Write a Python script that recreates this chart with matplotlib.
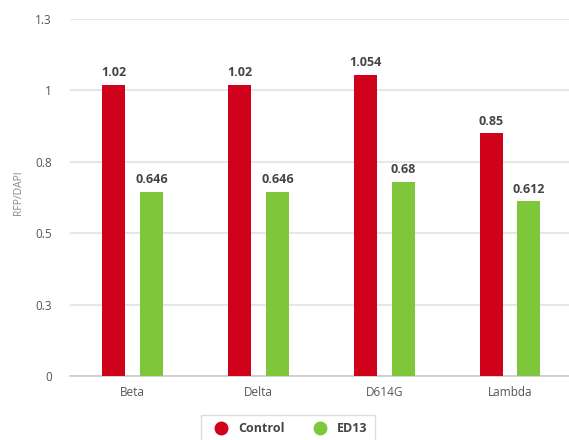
import matplotlib.pyplot as plt
from matplotlib.lines import Line2D
import numpy as np

plt.rcParams['font.family'] = ['Open Sans', 'DejaVu Sans']

variants = ['Beta', 'Delta', 'D614G', 'Lambda']
control = [1.02, 1.02, 1.054, 0.85]
ed13 = [0.646, 0.646, 0.68, 0.612]
series_names = ['Control', 'ED13']
y_ticks = [0, 0.25, 0.5, 0.75, 1, 1.25]
y_tick_labels = ['0', '0.3', '0.5', '0.8', '1', '1.3']

red = '#d0021b'
green = '#7ec73a'

fig = plt.figure(figsize=(5.69, 4.40), dpi=100)
ax = fig.add_axes([70 / 569, 64 / 440, 1 - 70 / 569, 357 / 440])

x = np.arange(len(variants))
w = 0.183
off = 0.15
b1 = ax.bar(x - off, control, w, color=red, zorder=3)
b2 = ax.bar(x + off, ed13, w, color=green, zorder=3)

# value labels above each bar
for bars, vals in ((b1, control), (b2, ed13)):
    for rect, v in zip(bars, vals):
        ax.annotate(f'{v:g}', (rect.get_x() + rect.get_width() / 2, v),
                    xytext=(0, 4), textcoords='offset points',
                    ha='center', va='bottom', fontsize=9,
                    fontweight='bold', color='#444444')

ax.set_xlim(-0.5, 3.47)
ax.set_ylim(0, 1.25)
ax.set_yticks(y_ticks)
ax.set_yticklabels(y_tick_labels)
ax.set_xticks(x)
ax.set_xticklabels(variants)
ax.tick_params(axis='both', length=0, labelsize=8.5, colors='#555555')
ax.tick_params(axis='y', pad=13)
ax.tick_params(axis='x', pad=7)
ax.yaxis.grid(True, color='#e3e3e3', linewidth=1.2, zorder=0)
ax.set_axisbelow(True)
for s in ['top', 'right', 'left']:
    ax.spines[s].set_visible(False)
ax.spines['bottom'].set_color('#cccccc')
ax.spines['bottom'].set_linewidth(1.2)

fig.text(18 / 569, 1 - 193 / 440, 'RFP/DAPI', rotation=90, ha='center',
         va='center', fontsize=7.5, color='#888888')

handles = [Line2D([], [], marker='o', linestyle='none', markersize=9,
                  color=c) for c in (red, green)]
leg = fig.legend(handles, series_names, loc='upper center',
                 bbox_to_anchor=(288 / 569, 1 - 409 / 440), ncol=2,
                 frameon=True, fancybox=False, handletextpad=0.4,
                 columnspacing=1.8, borderpad=0.55,
                 prop={'weight': 'bold', 'size': 9})
leg.get_frame().set_edgecolor('#d5d5d5')
for t in leg.get_texts():
    t.set_color('#444444')

fig.savefig('out.png', dpi=100)
